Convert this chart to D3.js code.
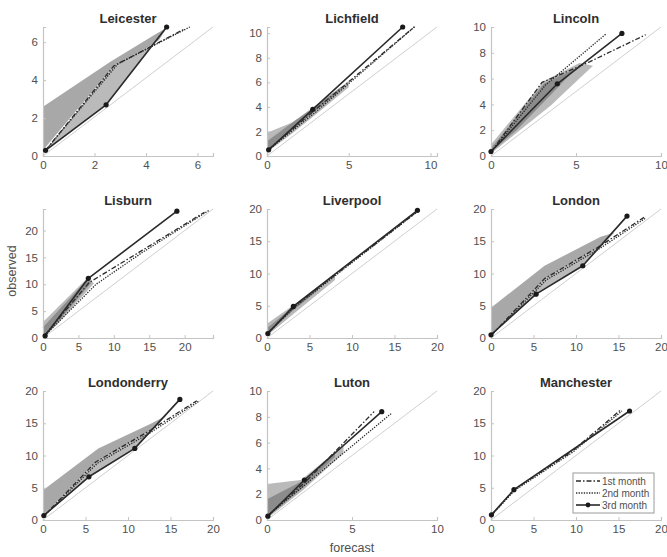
<!DOCTYPE html>
<html>
<head>
<meta charset="utf-8">
<script src="https://cdn.jsdelivr.net/npm/d3@7"></script>
<style>
  body { margin: 0; background: #fff; }
  svg { display: block; font-family: "Liberation Sans", Arial, sans-serif; }
</style>
</head>
<body>
<svg id="chart" width="667" height="557"></svg>
<script>
// ---------- data ----------
const cities = ["Leicester", "Lichfield", "Lincoln", "Lisburn", "Liverpool", "London", "Londonderry", "Luton", "Manchester"];
const xMax = [6.6, 10.4, 10, 24, 20, 20, 20, 10, 20];
const yMax = [6.8, 10.5, 10, 24, 20, 20, 20, 10, 20];
const xTickValues = [[0,2,4,6],[0,5,10],[0,5,10],[0,5,10,15,20],[0,5,10,15,20],[0,5,10,15,20],[0,5,10,15,20],[0,5,10],[0,5,10,15,20]];
const yTickValues = [[0,2,4,6],[0,2,4,6,8,10],[0,2,4,6,8,10],[0,5,10,15,20],[0,5,10,15,20],[0,5,10,15,20],[0,5,10,15,20],[0,2,4,6,8,10],[0,5,10,15,20]];

// 1st month (dash-dot)
const month1 = [
  [[0.1,0.3],[2.75,4.75],[5.5,6.7]],
  [[0.1,0.55],[2.9,3.7],[9.0,10.5]],
  [[0,0.3],[3.0,5.7],[5.8,7.3],[9.1,9.4]],
  [[0.3,0.6],[6.5,10.3],[14,16.3],[22.8,23.4]],
  [[0.1,0.8],[3.1,4.8],[17.5,19.4]],
  [[0.1,0.5],[6.3,9.2],[12.5,14],[18,18.7]],
  [[0.1,0.6],[6.2,9.0],[12.5,13.8],[18.1,18.5]],
  [[0.05,0.35],[2.3,3.0],[6.3,8.4]],
  [[0.1,0.8],[2.7,4.7],[9.5,10.6],[15.2,17]]
];
// 2nd month (dotted)
const month2 = [
  [[0.1,0.3],[2.9,4.85],[5.7,6.8]],
  [[0.1,0.5],[3.0,3.6],[9.1,10.6]],
  [[0,0.3],[3.2,5.5],[6.8,9.5]],
  [[0.3,0.5],[7.5,10.0],[14,15.9],[23.5,23.8]],
  [[0.1,0.8],[3.2,4.7],[17.6,19.5]],
  [[0.1,0.5],[6.5,9.0],[12.7,13.8],[18.2,18.6]],
  [[0.1,0.6],[6.4,8.8],[12.7,13.6],[18.3,18.4]],
  [[0.05,0.35],[2.4,2.9],[7.35,8.3]],
  [[0.1,0.8],[2.8,4.6],[9.6,10.5],[15.4,16.9]]
];
// 3rd month (solid with markers)
const month3 = [
  [[0.1,0.3],[2.45,2.7],[4.8,6.8]],
  [[0.1,0.5],[2.8,3.8],[8.3,10.5]],
  [[0,0.35],[3.9,5.6],[7.7,9.5]],
  [[0.3,0.4],[6.4,11.1],[18.9,23.6]],
  [[0.1,0.7],[3.1,4.9],[17.7,19.8]],
  [[0,0.5],[5.3,6.8],[10.8,11.2],[16,18.9]],
  [[0.1,0.7],[5.4,6.7],[10.8,11.1],[16.1,18.7]],
  [[0.05,0.3],[2.2,3.1],[6.75,8.4]],
  [[0.05,0.8],[2.7,4.7],[16.3,16.9]]
];
// uncertainty bands (polygons in data units)
const bandDark = [
  [[0,0.3],[0,2.6],[2.6,4.95],[4.4,6.45],[4.8,6.75],[4.5,6.1],[2.75,4.75]],
  [[0,0.4],[0,1.2],[2.8,3.95],[4.5,5.6],[4.5,5.3],[2.8,3.5]],
  [[0,0.3],[0,0.6],[3.1,5.6],[5,6.8],[4,5.4],[1.5,2]],
  [[0,0.4],[0,2],[6.3,11],[6.8,10.3],[1,1.3]],
  [[0,0.5],[0,1.5],[3.1,4.9],[6,8],[6,7.4],[3.1,4.3]],
  [[0,0.5],[0,4.7],[6.3,11.2],[12.9,15.7],[14.5,16.3],[12.5,14],[6.3,9.2]],
  [[0,0.6],[0,4.6],[6.5,11.1],[12.8,15],[14.5,16.2],[12.5,13.8],[6.2,9]],
  [[0,0.2],[0,1.6],[2.2,3.1],[4,5.3],[4,4.9],[2.2,2.6]],
  []
];
const bandLight = [
  [[0.1,0.3],[2.45,2.7],[4.8,6.8],[4.4,6.05],[2.75,4.75]],
  [[0,0.3],[0,1.9],[1.5,2.7],[3,4.0],[5,6.1],[5,5.6],[3,3.4],[1.5,1.8]],
  [[0,0.2],[0,0.9],[3.1,5.8],[5.2,7.2],[6,7.0],[5.2,6.0],[3.5,3.9]],
  [[0,0.3],[0,3],[6.3,11.2],[7.2,10.2],[2,2.5]],
  [[0,0.3],[0,2.2],[3,5],[8,10],[8,9],[3,3.6]],
  [[0,0.5],[6.3,9.2],[12.5,14],[14.5,16.3],[10.8,11.2],[5.3,6.8]],
  [[0.1,0.6],[6.2,9],[12.5,13.8],[14.5,16.2],[10.8,11.1],[5.4,6.7]],
  [[0,0.1],[0,2.8],[2,3.1],[4.5,5.8],[4.5,5.2],[2.2,2.4]],
  []
];
const legendLabels = ["1st month", "2nd month", "3rd month"];

// ---------- drawing ----------
const svg = d3.select("#chart");
const panelW = 170, panelH = 129;
const left0 = 43, top0 = 27, colStep = 224, rowStep = 182;
const axisColor = "#c4c4c4", textColor = "#505050", lineColor = "#2a2a2a";
const styles = [
  { dash: "5,2,1.5,2", width: 1.3 },
  { dash: "1.3,1.3", width: 1.3 },
  { dash: null, width: 1.6 }
];

cities.forEach((city, i) => {
  const c = i % 3, r = Math.floor(i / 3);
  const x0 = left0 + c * colStep, y0 = top0 + r * rowStep;
  const x = d3.scaleLinear().domain([0, xMax[i]]).range([x0, x0 + panelW]);
  const y = d3.scaleLinear().domain([0, yMax[i]]).range([y0 + panelH, y0]);
  const g = svg.append("g");

  // bands
  const poly = d3.line().x(d => x(d[0])).y(d => y(d[1]));
  if (bandLight[i].length) g.append("path").attr("d", poly(bandLight[i]) + "Z")
    .attr("fill", "#8c8c8c").attr("fill-opacity", 0.6).attr("stroke", "none");
  if (bandDark[i].length) g.append("path").attr("d", poly(bandDark[i]) + "Z")
    .attr("fill", "#6e6e6e").attr("fill-opacity", 0.6).attr("stroke", "none");

  // diagonal reference
  g.append("line").attr("x1", x(0)).attr("y1", y(0)).attr("x2", x(xMax[i])).attr("y2", y(yMax[i]))
    .attr("stroke", "#cfcfcf").attr("stroke-width", 1);

  // axes
  const xa = d3.axisBottom(x).tickValues(xTickValues[i]).tickSize(-3).tickPadding(5).tickFormat(d3.format("d"));
  const ya = d3.axisLeft(y).tickValues(yTickValues[i]).tickSize(-3).tickPadding(5).tickFormat(d3.format("d"));
  const gx = g.append("g").attr("transform", `translate(0,${y0 + panelH})`).call(xa);
  const gy = g.append("g").attr("transform", `translate(${x0},0)`).call(ya);
  [gx, gy].forEach(a => {
    a.select(".domain").attr("stroke", axisColor).attr("stroke-width", 1.2);
    a.selectAll(".tick line").attr("stroke", axisColor);
    a.selectAll(".tick text").attr("fill", textColor).attr("font-size", 11.5)
      .attr("font-family", "'Liberation Sans', Arial, sans-serif");
  });

  // series
  const line = d3.line().x(d => x(d[0])).y(d => y(d[1]));
  [month1[i], month2[i], month3[i]].forEach((pts, k) => {
    const p = g.append("path").attr("d", line(pts)).attr("fill", "none")
      .attr("stroke", lineColor).attr("stroke-width", styles[k].width)
      .attr("stroke-linejoin", "round");
    if (styles[k].dash) p.attr("stroke-dasharray", styles[k].dash);
  });
  g.selectAll("circle.m").data(month3[i]).enter().append("circle")
    .attr("cx", d => x(d[0])).attr("cy", d => y(d[1])).attr("r", 2.6).attr("fill", "#1a1a1a");

  // title
  g.append("text").attr("x", x0 + panelW / 2).attr("y", y0 - 4).attr("text-anchor", "middle")
    .attr("font-size", 13).attr("font-weight", "bold").attr("fill", "#2e2e2e").text(city);

  // legend in last panel
  if (i === cities.length - 1) {
    const lx = 573, ly = 473, lw = 81, lh = 40;
    const lg = svg.append("g");
    lg.append("rect").attr("x", lx).attr("y", ly).attr("width", lw).attr("height", lh)
      .attr("fill", "#fff").attr("stroke", "#9a9a9a").attr("stroke-width", 1);
    legendLabels.forEach((lab, k) => {
      const yy = ly + 8 + k * 12;
      const l = lg.append("line").attr("x1", lx + 3).attr("x2", lx + 27).attr("y1", yy).attr("y2", yy)
        .attr("stroke", lineColor).attr("stroke-width", styles[k].width);
      if (styles[k].dash) l.attr("stroke-dasharray", styles[k].dash);
      if (k === 2) lg.append("circle").attr("cx", lx + 15).attr("cy", yy).attr("r", 2.4).attr("fill", "#1a1a1a");
      lg.append("text").attr("x", lx + 29).attr("y", yy + 3.5).attr("font-size", 10)
        .attr("fill", textColor).text(lab);
    });
  }
});

// axis titles
svg.append("text").attr("transform", "translate(16,271) rotate(-90)").attr("text-anchor", "middle")
  .attr("font-size", 12.5).attr("fill", textColor).text("observed");
svg.append("text").attr("x", 352).attr("y", 552).attr("text-anchor", "middle")
  .attr("font-size", 12.5).attr("fill", textColor).text("forecast");
</script>
</body>
</html>
